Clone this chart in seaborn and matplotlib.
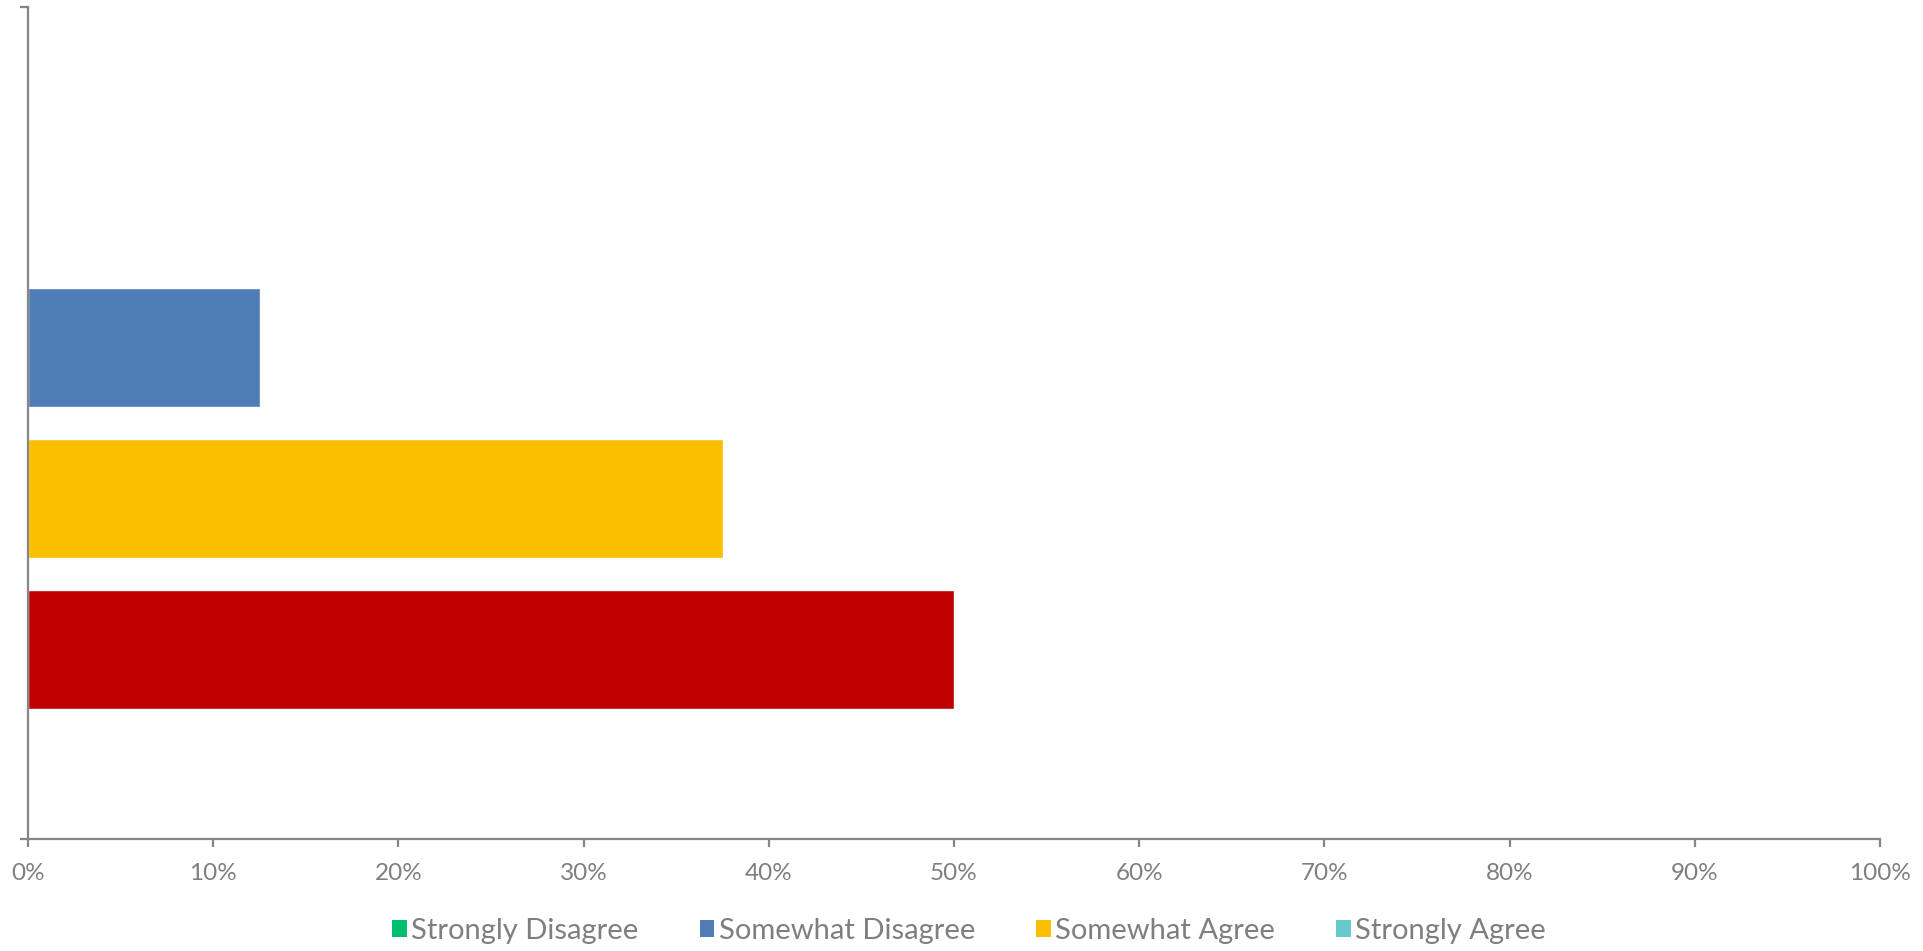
import matplotlib
matplotlib.use("Agg")
import matplotlib.pyplot as plt
from matplotlib.patches import Patch
from matplotlib.ticker import PercentFormatter
import seaborn as sns

# Survey response shares (percent), top to bottom as drawn
responses = ["Strongly Disagree", "Somewhat Disagree", "Somewhat Agree", "Strongly Agree"]
shares = [0, 12.5, 37.5, 50]
bar_colors = ["#00B050", "#4F7DB5", "#F9BF00", "#C00000"]
legend_colors = ["#00BF6F", "#4F7DB5", "#F9BF00", "#67C8CB"]
x_ticks = list(range(0, 101, 10))

sns.set_style("white")
plt.rcParams["font.family"] = ["Lato", "DejaVu Sans"]

axis_grey = "#868686"
text_grey = "#7F7F7F"

fig = plt.figure(figsize=(19.23, 9.51), dpi=100)
ax = fig.add_axes([0.0146, 0.1178, 0.9630, 0.8748])

sns.barplot(x=shares, y=responses, hue=responses, palette=bar_colors,
            orient="h", width=0.79, saturation=1, legend=False, ax=ax)

ax.set_xlim(0, 100)
ax.set_ylim(4.255, -1.255)
ax.set_xticks(x_ticks)
ax.xaxis.set_major_formatter(PercentFormatter(decimals=0))
ax.set_yticks([-1.255, 4.255])
ax.set_yticklabels([])
ax.set_xlabel("")
ax.set_ylabel("")

for side in ["top", "right"]:
    ax.spines[side].set_visible(False)
for side in ["left", "bottom"]:
    ax.spines[side].set_color(axis_grey)
    ax.spines[side].set_linewidth(1.6)

ax.tick_params(axis="x", which="major", direction="out", length=6, width=1.6,
               color=axis_grey, labelcolor=text_grey, labelsize=17.5, pad=11)
ax.tick_params(axis="y", which="major", direction="out", length=6, width=1.6,
               color=axis_grey)
ax.tick_params(bottom=True, left=True)

handles = [Patch(facecolor=c, edgecolor="none", label=r) for r, c in zip(responses, legend_colors)]
leg = fig.legend(handles=handles, loc="center", bbox_to_anchor=(0.504, 0.021), ncol=4,
                 frameon=False, fontsize=21, handlelength=0.5, handleheight=0.5,
                 handletextpad=0.15, columnspacing=2.1)
for t in leg.get_texts():
    t.set_color(text_grey)

fig.savefig("out.png", dpi=100, facecolor="white")
